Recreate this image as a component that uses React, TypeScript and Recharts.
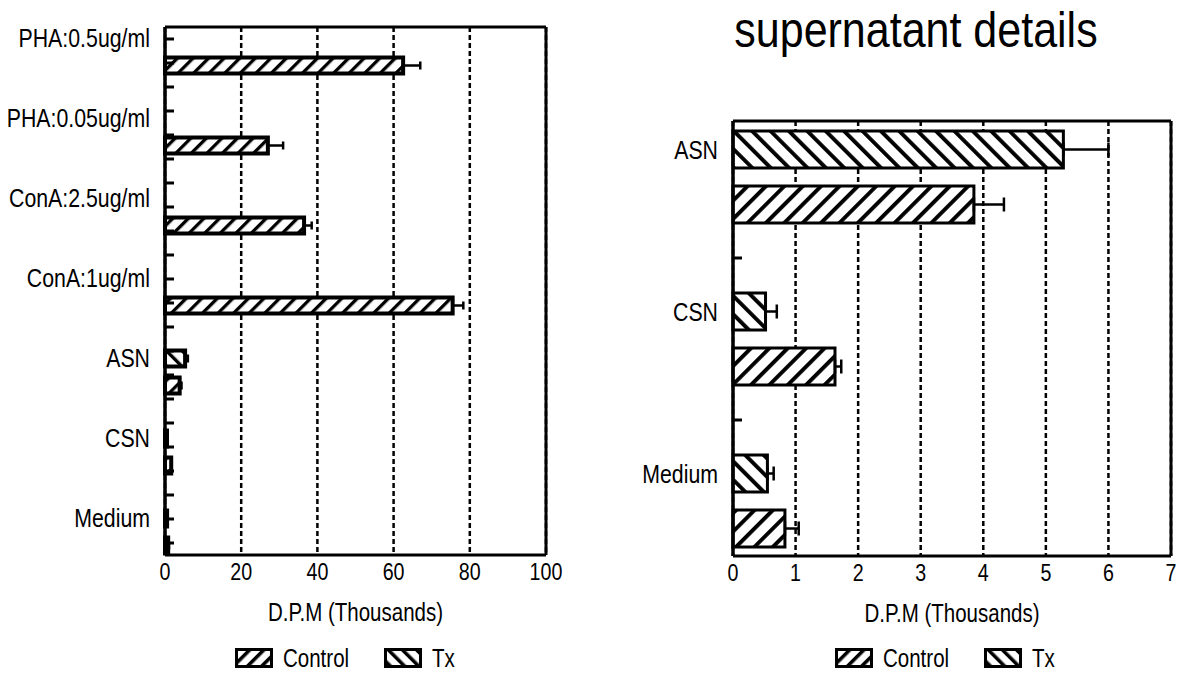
import { BarChart, Bar, XAxis, YAxis, CartesianGrid, ErrorBar, ReferenceLine, Legend } from 'recharts'

const FONT = '"Liberation Sans", Arial, sans-serif'
const NARROW = 0.82

// left panel: all stimulations, D.P.M in thousands
const ALL_CATS = ['PHA:0.5ug/ml', 'PHA:0.05ug/ml', 'ConA:2.5ug/ml', 'ConA:1ug/ml', 'ASN', 'CSN', 'Medium']
const ALL_TX = [null, null, null, null, 5.28, 0.52, 0.55]
const ALL_TX_ERR = [null, null, null, null, 0.72, 0.18, 0.1]
const ALL_CONTROL = [62.5, 27, 36.5, 75.5, 3.85, 1.63, 0.83]
const ALL_CONTROL_ERR = [4.5, 4, 2, 2.8, 0.48, 0.1, 0.22]
const ALL_X_TICKS = [0, 20, 40, 60, 80, 100]
const ALL_MINOR_TICKS = [
  0.5, 1.5, 2.5, 3.5, 4.5, 5.5, 6.5, 7.5, 8.5, 9.5, 10.5,
  11.5, 12.5, 13.5, 14.5, 15.5, 16.5, 17.5, 18.5, 19.5, 20.5, 21.5,
]

// right panel: supernatant details
const SN_CATS = ['ASN', 'CSN', 'Medium']
const SN_TX = [5.28, 0.52, 0.55]
const SN_TX_ERR = [0.72, 0.18, 0.1]
const SN_CONTROL = [3.85, 1.63, 0.83]
const SN_CONTROL_ERR = [0.48, 0.1, 0.22]
const SN_X_TICKS = [0, 1, 2, 3, 4, 5, 6, 7]
const SN_MINOR_TICKS = [1, 2]

function buildRows(cats: string[], tx: (number | null)[], txErr: (number | null)[], ctrl: number[], ctrlErr: number[]) {
  return cats.map((name, i) => ({
    name,
    tx: tx[i],
    txErr: txErr[i] == null ? null : [0, txErr[i]],
    control: ctrl[i],
    controlErr: [0, ctrlErr[i]],
  }))
}

// condensed plotter-ish text
function NarrowText({ x, y, anchor, size, children }: { x: number; y: number; anchor: string; size: number; children: any }) {
  return (
    <text
      transform={`translate(${x},${y}) scale(${NARROW},1)`}
      textAnchor={anchor}
      fontFamily={FONT}
      fontSize={size}
      fill="#000"
    >
      {children}
    </text>
  )
}

function Swatch({ id, angle }: { id: string; angle: number }) {
  return (
    <svg width={38} height={20} style={{ display: 'block' }}>
      <defs>
        <pattern id={id} patternUnits="userSpaceOnUse" width={10} height={10} patternTransform={`rotate(${angle})`}>
          <rect width={10} height={10} fill="#fff" />
          <line x1={0} y1={0} x2={0} y2={10} stroke="#000" strokeWidth={7} />
        </pattern>
      </defs>
      <rect x={1.5} y={1.5} width={35} height={17} fill={`url(#${id})`} stroke="#000" strokeWidth={3} />
    </svg>
  )
}

const narrowSpan = { display: 'inline-block', transform: `scaleX(${NARROW})`, transformOrigin: 'left center' }

function HatchLegend({ prefix }: { prefix: string }) {
  return (
    <div style={{ display: 'flex', alignItems: 'center', fontFamily: FONT, fontSize: 25, color: '#000', lineHeight: '26px' }}>
      <Swatch id={`${prefix}-lg-ctrl`} angle={45} />
      <span style={{ marginLeft: 10, width: 66 }}>
        <span style={narrowSpan}>Control</span>
      </span>
      <span style={{ marginLeft: 35 }}>
        <Swatch id={`${prefix}-lg-tx`} angle={-45} />
      </span>
      <span style={{ marginLeft: 10 }}>
        <span style={narrowSpan}>Tx</span>
      </span>
    </div>
  )
}

interface PanelProps {
  prefix: string
  rows: ReturnType<typeof buildRows>
  xMax: number
  xTicks: number[]
  minorDomain: [number, number]
  minorTicks: number[]
  width: number
  yAxisWidth: number
  marginTop: number
  marginRight: number
  marginBottom: number
  pad: { top: number; bottom: number }
  minorPad: { top: number; bottom: number }
  barSize: number
  barGap: number
  barStroke: number
  labelDy: number
  stripe: number
  capWidth: number
}

function HatchPanel(p: PanelProps) {
  const renderCatTick = (props: any) => (
    <NarrowText x={props.x - 15} y={props.y + p.labelDy + 9} anchor="end" size={26}>
      {props.payload.value}
    </NarrowText>
  )
  const renderNumTick = (props: any) => (
    <NarrowText x={props.x} y={props.y + 17} anchor="middle" size={24}>
      {props.payload.value}
    </NarrowText>
  )
  const renderAxisTitle = (props: any) => {
    const vb = props.viewBox
    return (
      <NarrowText x={vb.x + vb.width / 2} y={vb.y + 66} anchor="middle" size={25}>
        D.P.M (Thousands)
      </NarrowText>
    )
  }

  return (
    <BarChart
      width={p.width}
      height={673}
      data={p.rows}
      layout="vertical"
      barSize={p.barSize}
      barGap={p.barGap}
      margin={{ top: p.marginTop, right: p.marginRight, bottom: p.marginBottom, left: 0 }}
    >
      <defs>
        <pattern id={`${p.prefix}-ctrl`} patternUnits="userSpaceOnUse" width={p.stripe} height={p.stripe} patternTransform="rotate(45)">
          <rect width={p.stripe} height={p.stripe} fill="#fff" />
          <line x1={0} y1={0} x2={0} y2={p.stripe} stroke="#000" strokeWidth={p.stripe * 0.6} />
        </pattern>
        <pattern id={`${p.prefix}-tx`} patternUnits="userSpaceOnUse" width={p.stripe} height={p.stripe} patternTransform="rotate(-45)">
          <rect width={p.stripe} height={p.stripe} fill="#fff" />
          <line x1={0} y1={0} x2={0} y2={p.stripe} stroke="#000" strokeWidth={p.stripe * 0.6} />
        </pattern>
      </defs>
      <CartesianGrid horizontal={false} stroke="#000" strokeWidth={2.5} strokeDasharray="5 3" />
      <XAxis
        type="number"
        domain={[0, p.xMax]}
        ticks={p.xTicks}
        interval={0}
        height={70}
        tickLine={false}
        axisLine={{ stroke: '#000', strokeWidth: 3 }}
        tick={renderNumTick}
        label={{ content: renderAxisTitle }}
      />
      <XAxis
        xAxisId="top"
        orientation="top"
        type="number"
        domain={[0, p.xMax]}
        mirror
        height={1}
        tick={false}
        tickLine={false}
        axisLine={{ stroke: '#000', strokeWidth: 3 }}
      />
      <YAxis
        type="category"
        dataKey="name"
        width={p.yAxisWidth}
        padding={p.pad}
        interval={0}
        tickLine={false}
        tickSize={0}
        tickMargin={0}
        axisLine={{ stroke: '#000', strokeWidth: 3.5 }}
        tick={renderCatTick}
      />
      <YAxis
        yAxisId="minor"
        type="number"
        dataKey="minorTick"
        domain={p.minorDomain}
        allowDataOverflow
        ticks={p.minorTicks}
        interval={0}
        padding={p.minorPad}
        mirror
        width={60}
        tick={() => null}
        tickSize={9}
        tickLine={{ stroke: '#000', strokeWidth: 3 }}
        axisLine={false}
      />
      <ReferenceLine x={p.xMax} stroke="#000" strokeWidth={3} />
      <Bar dataKey="tx" name="Tx" fill={`url(#${p.prefix}-tx)`} stroke="#000" strokeWidth={p.barStroke} isAnimationActive={false}>
        <ErrorBar dataKey="txErr" direction="x" width={p.capWidth} stroke="#000" strokeWidth={2.5} />
      </Bar>
      <Bar dataKey="control" name="Control" fill={`url(#${p.prefix}-ctrl)`} stroke="#000" strokeWidth={p.barStroke} isAnimationActive={false}>
        <ErrorBar dataKey="controlErr" direction="x" width={p.capWidth} stroke="#000" strokeWidth={2.5} />
      </Bar>
      <Legend
        layout="horizontal"
        verticalAlign="middle"
        align="center"
        wrapperStyle={{ top: 645, left: 235, width: 260, height: 26 }}
        content={() => <HatchLegend prefix={p.prefix} />}
      />
    </BarChart>
  )
}

export default function App() {
  const allRows = buildRows(ALL_CATS, ALL_TX, ALL_TX_ERR, ALL_CONTROL, ALL_CONTROL_ERR)
  const snRows = buildRows(SN_CATS, SN_TX, SN_TX_ERR, SN_CONTROL, SN_CONTROL_ERR)

  return (
    <div style={{ position: 'absolute', left: 0, top: 0, width: 1181, height: 673, background: '#fff' }}>
      <div style={{ position: 'absolute', left: 0, top: 0 }}>
        <HatchPanel
          prefix="all"
          rows={allRows}
          xMax={100}
          xTicks={ALL_X_TICKS}
          minorDomain={[0, 22]}
          minorTicks={ALL_MINOR_TICKS}
          width={600}
          yAxisWidth={165}
          marginTop={27}
          marginRight={54}
          marginBottom={48}
          pad={{ top: -15.5, bottom: -16.5 }}
          minorPad={{ top: 0, bottom: 0 }}
          barSize={16}
          barGap={11}
          barStroke={4}
          labelDy={-13.5}
          stripe={11}
          capWidth={4}
        />
      </div>
      <div style={{ position: 'absolute', left: 600, top: 0 }}>
        <HatchPanel
          prefix="sn"
          rows={snRows}
          xMax={7}
          xTicks={SN_X_TICKS}
          minorDomain={[0, 3]}
          minorTicks={SN_MINOR_TICKS}
          width={581}
          yAxisWidth={133}
          marginTop={121}
          marginRight={10}
          marginBottom={47}
          pad={{ top: -25, bottom: -26 }}
          minorPad={{ top: -25, bottom: -26 }}
          barSize={37}
          barGap={18}
          barStroke={3}
          labelDy={-27.5}
          stripe={13}
          capWidth={7}
        />
      </div>
      <div
        style={{
          position: 'absolute',
          left: 666,
          top: 4,
          width: 500,
          textAlign: 'center',
          fontFamily: FONT,
          fontSize: 50,
          lineHeight: '52px',
          color: '#000',
          transform: 'scaleX(0.86)',
          transformOrigin: 'center',
        }}
      >
        supernatant details
      </div>
    </div>
  )
}
